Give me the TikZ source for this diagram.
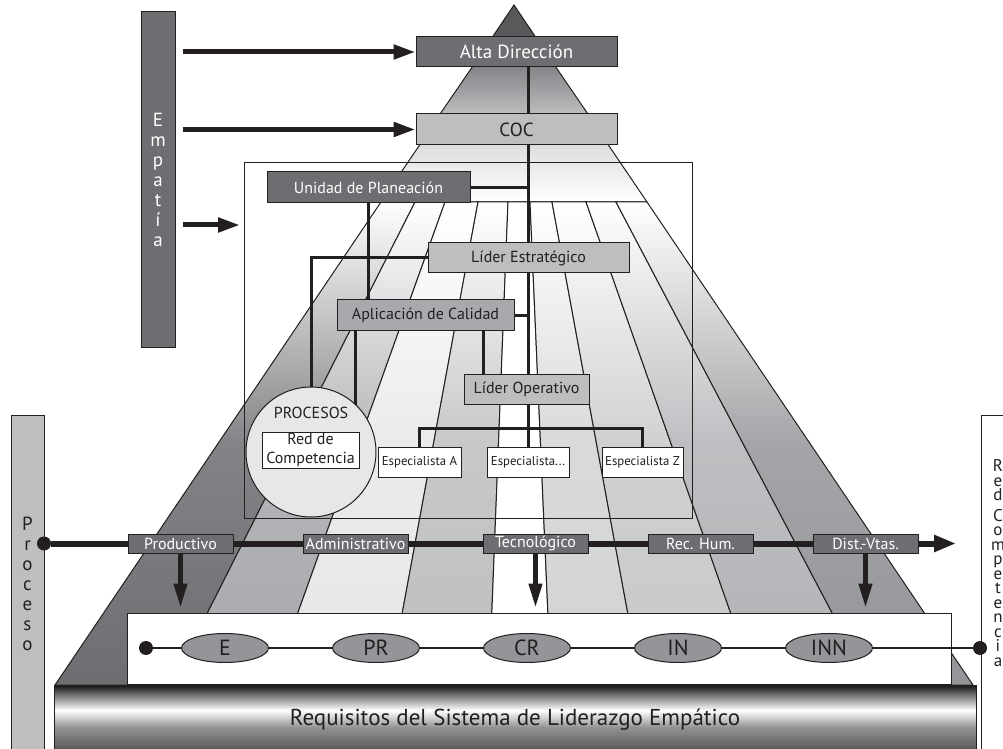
\documentclass[tikz,border=0pt]{standalone}
\usepackage{fontspec}
\setmainfont{PT Sans}
\usepackage{tikz}
\usetikzlibrary{arrows.meta,backgrounds,shapes.geometric}

\definecolor{gLin}{HTML}{231F20}
\definecolor{gPun}{HTML}{58595B}
\definecolor{gOsc}{HTML}{6D6E71}
\definecolor{gMed}{HTML}{A7A9AC}
\definecolor{gCla}{HTML}{BCBEC0}
\definecolor{gTen}{HTML}{E6E7E8}
\definecolor{gElip}{HTML}{939598}
\definecolor{gS1}{HTML}{6D6E71}
\definecolor{gS2}{HTML}{A7A9AC}
\definecolor{gS3}{HTML}{E6E7E8}
\definecolor{gS4}{HTML}{BCBEC0}
\definecolor{gS6}{HTML}{D1D3D4}
\definecolor{gS7}{HTML}{C7C8CA}
\definecolor{gS8}{HTML}{B1B3B6}
\definecolor{gS9}{HTML}{939598}

% la parte visible va de 25bp a 75bp
\pgfdeclareverticalshading{barrabase}{100bp}{color(0bp)=(black!75); color(25bp)=(black!75); color(31bp)=(black!62); color(45bp)=(black!42); color(57bp)=(white); color(66bp)=(black!45); color(75bp)=(black!92); color(100bp)=(black!92)}

\begin{document}
\begin{tikzpicture}
  [x=0.5pt,y=-0.5pt,
   caja/.style={draw=gLin,line width=0.5pt,inner sep=0pt,minimum height=15pt,text=gLin,font=\fontsize{8}{9}\selectfont},
   oscura/.style={caja,fill=gOsc,text=white},
   clara/.style={caja,fill=gCla},
   blanca/.style={caja,fill=white,font=\fontsize{6.4}{7}\selectfont},
   proc/.style={oscura,minimum width=52.5pt,minimum height=9.5pt},
   elip/.style={ellipse,draw=gLin,line width=0.5pt,fill=gElip,text=gLin,minimum width=43.5pt,minimum height=14.5pt,inner sep=0pt,font=\fontsize{11}{12}\selectfont},
   punto/.style={circle,fill=gLin,inner sep=0pt,minimum size=7pt},
   letras/.style={align=center,font=\fontsize{9.5}{10}\selectfont},
   conector/.style={draw=gLin,line width=1.5pt},
   flecha/.style={draw=gLin,line width=2.5pt,shorten <=3.5pt,-{Triangle[length=11pt,width=7pt]}},
   flechab/.style={draw=gLin,line width=2.2pt,shorten >=2.5pt,-{Triangle[length=12pt,width=6.5pt]}}]

  \useasboundingbox (0,0) rectangle (1003,749);

  % barras laterales
  \node[oscura,letras,text=white,minimum width=17pt,minimum height=168pt] (emp) at (158,180) {E\\m\\p\\a\\t\\í\\a};
  \node[caja,fill=gCla,letras,minimum width=16.5pt,minimum height=169pt] (proc) at (27.5,584) {P\\r\\o\\c\\e\\s\\o};
  \node[caja,fill=white,minimum width=17pt,minimum height=175pt,anchor=north west] (lado) at (981,415) {};
  \node[align=center,text=gLin,font=\fontsize{8.5}{7.25}\selectfont] (ladotxt) at (998,563) {R\\e\\d\\[3pt]C\\o\\m\\p\\e\\t\\e\\n\\c\\i\\a};

  % marco
  \node[draw=gLin,line width=0.5pt,minimum width=224pt,minimum height=177.5pt,inner sep=0pt] (marco) at (468,340.5) {};

  % organigrama
  \node[oscura,minimum width=100.5pt,font=\fontsize{9.5}{11}\selectfont] (alta) at (516.5,52) {Alta Dirección};
  \node[clara,minimum width=100.5pt,minimum height=15.5pt,font=\fontsize{9.5}{11}\selectfont] (coc) at (516.5,129.5) {COC};
  \node[oscura,minimum width=101.5pt,minimum height=15.5pt] (unidad) at (368.5,187.5) {Unidad de Planeación};
  \node[clara,minimum width=100.5pt] (estrat) at (528.5,258) {Líder Estratégico};
  \node[caja,fill=gMed,minimum width=88.5pt,minimum height=15.5pt] (aplic) at (425.5,315.5) {Aplicación de Calidad};
  \node[clara,minimum width=62.5pt] (operat) at (526.5,389) {Líder Operativo};
  \node[blanca,minimum width=41.5pt] (espA) at (419.5,462) {Especialista A};
  \node[blanca,minimum width=41pt] (espB) at (528,462) {Especialista...};
  \node[blanca,minimum width=40.5pt] (espZ) at (642.5,462) {Especialista Z};
  \node[circle,draw=gLin,line width=0.5pt,fill=gTen,minimum size=65pt,inner sep=0pt] (procesos) at (311,452) {};
  \node[text=gLin,font=\fontsize{8}{9}\selectfont] (proctit) at (311,413) {PROCESOS};
  \node[blanca,minimum width=48.5pt,minimum height=18pt,align=center,font=\fontsize{8}{9.5}\selectfont] (red) at (310.5,450) {Red de\\Competencia};

  % franja inferior
  \node[caja,fill=white,minimum width=412pt,minimum height=35.5pt] (franja) at (539,648.5) {};
  \node[caja,shade,shading=barrabase,minimum width=461pt,minimum height=35pt,font=\fontsize{11.5}{13}\selectfont] (base) at (515,720) {Requisitos del Sistema de Liderazgo Empático};

  \node[elip] (e1) at (225,648) {E};
  \node[elip] (e2) at (376,648) {PR};
  \node[elip] (e3) at (527,648) {CR};
  \node[elip] (e4) at (678,648) {IN};
  \node[elip] (e5) at (829,648) {INN};
  \node[punto] (i1) at (146,648) {};
  \node[punto] (i2) at (980,648) {};
  \draw[gLin,line width=0.6pt] (i1) -- (e1) -- (e2) -- (e3) -- (e4) -- (e5) -- (i2);

  % linea de proceso
  \node[punto] (p0) at (44,543.5) {};
  \node[proc] (prod) at (180.5,543.5) {Productivo};
  \node[proc] (admin) at (355.5,543.5) {Administrativo};
  \node[proc] (tecno) at (535.5,543.5) {Tecnológico};
  \node[proc] (rech) at (700.5,543.5) {Rec. Hum.};
  \node[proc] (dist) at (865.5,543.5) {Dist.-Vtas.};
  \coordinate (pfin) at (956,543.5);
  \draw[gLin,line width=3pt] (p0) -- (prod) (prod) -- (admin) (admin) -- (tecno) (tecno) -- (rech) (rech) -- (dist);
  \draw[gLin,line width=3pt,-{Triangle[length=11pt,width=8pt]}] (dist) -- (pfin);

  \foreach \n in {prod,tecno,dist}
    \draw[flechab] (\n) -- (\n |- franja.north);

  % flechas de empatia
  \coordinate (mentrada) at (244,225);
  \draw[flecha] (emp.east |- alta) -- (alta);
  \draw[flecha] (emp.east |- coc) -- (coc);
  \draw[flecha,shorten >=2pt] (emp.east |- mentrada) -- (mentrada);

  \begin{scope}[on background layer]
    % piramide
    \filldraw[fill=gPun,draw=gLin,line width=0.5pt] (514,5) -- (549,57) -- (479,57) -- cycle;
    \shadedraw[top color=gOsc!90!white,bottom color=gCla!90!white,draw=gLin,line width=0.5pt]
      (477,60) -- (551,60) -- (592,120) -- (436,120) -- cycle;
    \shadedraw[top color=gTen!70!gCla,bottom color=white,draw=gLin,line width=0.5pt]
      (423,140) -- (605,140) -- (647,202) -- (381,202) -- cycle;
    \foreach \ta/\tb/\ba/\bb/\col in {381/415/55/171/gS1,415/445/171/272/gS2,445/478/272/389/gS3,
        478/508/389/489/gS4,508/530/489/551/white,530/552/551/641/gS6,552/586/641/756/gS7,
        586/616/756/870/gS8,616/647/870/973/gS9}
      \shadedraw[top color=white,bottom color=\col,middle color=\col!85!white,draw=gLin,line width=0.5pt]
        (\ta,202) -- (\tb,202) -- (\bb,685) -- (\ba,685) -- cycle;

    % conectores
    \coordinate (apA) at (355,331);
    \coordinate (apB) at (483,331);
    \coordinate (barra) at (528,428);
    \draw[conector] (estrat |- alta.south) -- (estrat.north);
    \draw[conector] (estrat.south) -- (estrat.south |- operat.north);
    \draw[conector] (unidad.east) -- (unidad.east -| estrat);
    \draw[conector] (aplic.east) -- (aplic.east -| estrat);
    \draw[conector] (estrat.west) -| (procesos.north);
    \draw[conector] (unidad.south) -- (unidad.south |- aplic.north);
    \draw[conector] (apA) -- (apA |- procesos.center);
    \draw[conector] (apB) -- (apB |- operat.north);
    \draw[conector] (barra |- operat.south) -- (espB.north);
    \draw[conector] (espA.north) |- (barra) -| (espZ.north);
  \end{scope}

\end{tikzpicture}
\end{document}
